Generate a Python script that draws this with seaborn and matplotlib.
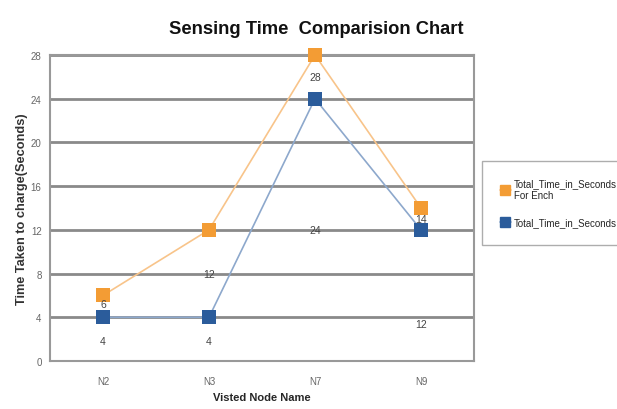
import matplotlib
matplotlib.use("Agg")
import matplotlib.pyplot as plt
from matplotlib.lines import Line2D
import seaborn as sns
import pandas as pd
import numpy as np

nodes = ["N2", "N3", "N7", "N9"]
total_for_each = [6, 12, 28, 14]
total_time = [4, 4, 24, 12]
series_names = ["Total_Time_in_Seconds\nFor Ench", "Total_Time_in_Seconds"]
yticks = [0, 4, 8, 12, 16, 20, 24, 28]

# label offsets (pixels, downward) as seen in the reference
off_orange = [9, 44, 22, 11]
off_blue = [24, 24, 131, 94]

orange_m, orange_l = "#F39C34", "#F8C48A"
blue_m, blue_l = "#2B5C9B", "#8DA8CC"

sns.set_style("white")
plt.rcParams["font.family"] = ["Liberation Sans", "DejaVu Sans"]

fig = plt.figure(figsize=(6.17, 4.10), dpi=100)
ax = fig.add_axes([50/617, 48/410, 424/617, 306/410])

x = np.arange(len(nodes))
df = pd.DataFrame({"x": np.concatenate([x, x]),
                   "y": total_for_each + total_time,
                   "s": [series_names[0]]*4 + [series_names[1]]*4})

for lc, mc, name in [(orange_l, orange_m, series_names[0]),
                     (blue_l, blue_m, series_names[1])]:
    d = df[df["s"] == name]
    sns.lineplot(data=d, x="x", y="y", ax=ax, color=lc, linewidth=1.2, zorder=3)
    sns.scatterplot(data=d, x="x", y="y", ax=ax, color=mc, marker="s", s=110,
                    edgecolor=mc, linewidth=0, zorder=4, clip_on=False)

for xi, v, o in zip(x, total_for_each, off_orange):
    ax.annotate(str(v), (xi, v), xytext=(0, -o*0.72), textcoords="offset points",
                ha="center", va="center", fontsize=7.5, color="#444444", zorder=5)
for xi, v, o in zip(x, total_time, off_blue):
    ax.annotate(str(v), (xi, v), xytext=(0, -o*0.72), textcoords="offset points",
                ha="center", va="center", fontsize=7.5, color="#444444", zorder=5)

ax.set_xlim(-0.5, 3.5)
ax.set_ylim(0, 28)
ax.set_yticks(yticks)
ax.set_yticklabels([str(t) for t in yticks])
ax.set_xticks(x)
ax.set_xticklabels(nodes)
ax.tick_params(axis="both", labelsize=7, colors="#666666", length=0, pad=6)
ax.tick_params(axis="x", pad=11)
ax.yaxis.grid(True, color="#8a8a8a", linewidth=2.0, zorder=1)
ax.set_axisbelow(True)
for sp in ax.spines.values():
    sp.set_color("#999999")
    sp.set_linewidth(1.5)

ax.set_xlabel("Visted Node Name", fontsize=8, fontweight="bold", labelpad=4)
ax.set_ylabel("Time Taken to charge(Seconds)", fontsize=9.2, fontweight="bold",
              labelpad=2, color="#333333")
fig.text(316/617, 1 - 30/410, "Sensing Time  Comparision Chart", ha="center", va="center",
         fontsize=13.2, fontweight="bold", color="#111111")

handles = [Line2D([0], [0], color=orange_l, marker="s", markerfacecolor=orange_m,
                  markeredgecolor=orange_m, markersize=7, linewidth=1.2),
           Line2D([0], [0], color=blue_l, marker="s", markerfacecolor=blue_m,
                  markeredgecolor=blue_m, markersize=7, linewidth=1.2)]
leg = fig.legend(handles, series_names, loc="upper left",
                 bbox_to_anchor=(482/617, 1 - 162/410), fontsize=7, frameon=True,
                 fancybox=False, handlelength=1.2, handletextpad=0.3,
                 borderpad=1.8, labelspacing=1.8, edgecolor="#999999",
                 borderaxespad=0)
leg.get_frame().set_linewidth(1.0)

fig.savefig("out.png", dpi=100)
